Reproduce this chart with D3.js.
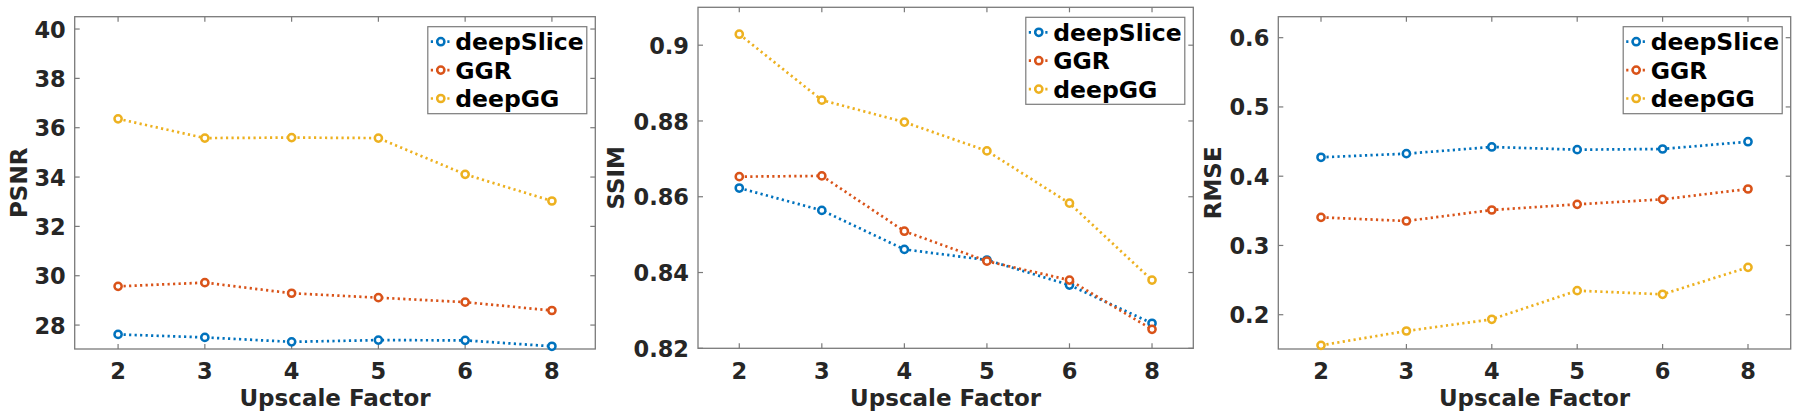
<!DOCTYPE html>
<html>
<head>
<meta charset="utf-8">
<script src="https://cdn.jsdelivr.net/npm/d3@7"></script>
<style>
  body { margin: 0; background: #fff; }
  svg text { font-family: "DejaVu Sans", sans-serif; font-weight: bold; }
</style>
</head>
<body>
<div id="chart"></div>
<script>
const factors = ['2', '3', '4', '5', '6', '8'];
const seriesNames = ['deepSlice', 'GGR', 'deepGG'];
const seriesColors = ['#0072BD', '#D95319', '#EDB120'];

const psnrDeepSlice = [27.62, 27.50, 27.32, 27.39, 27.38, 27.14];
const psnrGGR = [29.57, 29.72, 29.29, 29.11, 28.93, 28.59];
const psnrDeepGG = [36.36, 35.58, 35.60, 35.58, 34.11, 33.03];

const ssimDeepSlice = [0.8623, 0.8564, 0.8461, 0.8433, 0.8367, 0.8266];
const ssimGGR = [0.8653, 0.8655, 0.8509, 0.8430, 0.8380, 0.8250];
const ssimDeepGG = [0.9029, 0.8855, 0.8797, 0.8721, 0.8583, 0.8380];

const rmseDeepSlice = [0.4273, 0.4325, 0.4422, 0.4383, 0.4393, 0.4498];
const rmseGGR = [0.3406, 0.3353, 0.3512, 0.3594, 0.3666, 0.3815];
const rmseDeepGG = [0.1558, 0.1765, 0.1934, 0.2347, 0.2295, 0.2684];

const psnrTicks = [28, 30, 32, 34, 36, 38, 40];
const ssimTicks = [0.82, 0.84, 0.86, 0.88, 0.9];
const rmseTicks = [0.2, 0.3, 0.4, 0.5, 0.6];

const width = 1800, height = 420;
const svg = d3.select('#chart').append('svg')
    .attr('width', width)
    .attr('height', height);

// panel boxes (pixels) and y domains
const panels = [
  { label: 'PSNR', series: [psnrDeepSlice, psnrGGR, psnrDeepGG], ticks: psnrTicks, fmt: d3.format('d'),
    domain: [27.03, 40.5], left: 74.7, right: 595.3, top: 16.7, bottom: 349, labelX: 27 },
  { label: 'SSIM', series: [ssimDeepSlice, ssimGGR, ssimDeepGG], ticks: ssimTicks, fmt: d3.format('~g'),
    domain: [0.82, 0.91], left: 698, right: 1193.3, top: 7.3, bottom: 348.3, labelX: 624 },
  { label: 'RMSE', series: [rmseDeepSlice, rmseGGR, rmseDeepGG], ticks: rmseTicks, fmt: d3.format('.1f'),
    domain: [0.1505, 0.6303], left: 1278.3, right: 1790.7, top: 16.7, bottom: 349, labelX: 1220.5 }
];

const boxColor = '#7a7a7a';
const textColor = '#262626';

panels.forEach(p => {
  const x = d3.scaleLinear().domain([-0.5, factors.length - 0.5]).range([p.left, p.right]);
  const y = d3.scaleLinear().domain(p.domain).range([p.bottom, p.top]);
  const g = svg.append('g');

  // box
  g.append('rect')
      .attr('x', p.left).attr('y', p.top)
      .attr('width', p.right - p.left).attr('height', p.bottom - p.top)
      .attr('fill', 'none').attr('stroke', boxColor).attr('stroke-width', 1.3);

  // x ticks (inward, top and bottom)
  factors.forEach((f, i) => {
    const xp = x(i);
    g.append('line').attr('x1', xp).attr('x2', xp).attr('y1', p.bottom).attr('y2', p.bottom - 5)
        .attr('stroke', boxColor).attr('stroke-width', 1.2);
    g.append('line').attr('x1', xp).attr('x2', xp).attr('y1', p.top).attr('y2', p.top + 5)
        .attr('stroke', boxColor).attr('stroke-width', 1.2);
    g.append('text')
        .attr('x', xp).attr('y', 378.5)
        .attr('text-anchor', 'middle')
        .attr('font-size', 22.5)
        .attr('fill', textColor)
        .text(f);
  });

  // y ticks (inward, left and right)
  p.ticks.forEach(t => {
    const yp = y(t);
    g.append('line').attr('x1', p.left).attr('x2', p.left + 5).attr('y1', yp).attr('y2', yp)
        .attr('stroke', boxColor).attr('stroke-width', 1.2);
    g.append('line').attr('x1', p.right).attr('x2', p.right - 5).attr('y1', yp).attr('y2', yp)
        .attr('stroke', boxColor).attr('stroke-width', 1.2);
    g.append('text')
        .attr('x', p.left - 9).attr('y', yp)
        .attr('dy', '0.38em')
        .attr('text-anchor', 'end')
        .attr('font-size', 22.5)
        .attr('fill', textColor)
        .text(p.fmt(t));
  });

  // axis labels
  g.append('text')
      .attr('x', (p.left + p.right) / 2).attr('y', 406)
      .attr('text-anchor', 'middle')
      .attr('font-size', 23)
      .attr('fill', textColor)
      .text('Upscale Factor');

  g.append('text')
      .attr('transform', `translate(${p.labelX},${(p.top + p.bottom) / 2}) rotate(-90)`)
      .attr('text-anchor', 'middle')
      .attr('font-size', 23)
      .attr('fill', textColor)
      .text(p.label);

  // series
  const line = d3.line().x((d, i) => x(i)).y(d => y(d));
  p.series.forEach((vals, si) => {
    g.append('path')
        .datum(vals)
        .attr('d', line)
        .attr('fill', 'none')
        .attr('stroke', seriesColors[si])
        .attr('stroke-width', 2.7)
        .attr('stroke-dasharray', '2.2,3.3');
    g.selectAll(null)
        .data(vals)
        .enter()
        .append('circle')
        .attr('cx', (d, i) => x(i))
        .attr('cy', d => y(d))
        .attr('r', 3.6)
        .attr('fill', '#fff')
        .attr('stroke', seriesColors[si])
        .attr('stroke-width', 2.5);
  });

  // legend
  const lw = 159, lh = 87;
  const lx = p.right - 8.5 - lw, ly = p.top + 10;
  const leg = g.append('g');
  leg.append('rect')
      .attr('x', lx).attr('y', ly).attr('width', lw).attr('height', lh)
      .attr('fill', '#fff').attr('stroke', boxColor).attr('stroke-width', 1.2);
  seriesNames.forEach((name, si) => {
    const cy = ly + 15 + si * 28.4;
    leg.append('line')
        .attr('x1', lx + 3).attr('x2', lx + 24).attr('y1', cy).attr('y2', cy)
        .attr('stroke', seriesColors[si]).attr('stroke-width', 2.7)
        .attr('stroke-dasharray', '2.2,3.3');
    leg.append('circle')
        .attr('cx', lx + 13).attr('cy', cy).attr('r', 3.6)
        .attr('fill', '#fff').attr('stroke', seriesColors[si]).attr('stroke-width', 2.5);
    leg.append('text')
        .attr('x', lx + 27.5).attr('y', cy)
        .attr('dy', '0.36em')
        .attr('font-size', 23.5)
        .attr('fill', '#000')
        .text(name);
  });
});
</script>
</body>
</html>
